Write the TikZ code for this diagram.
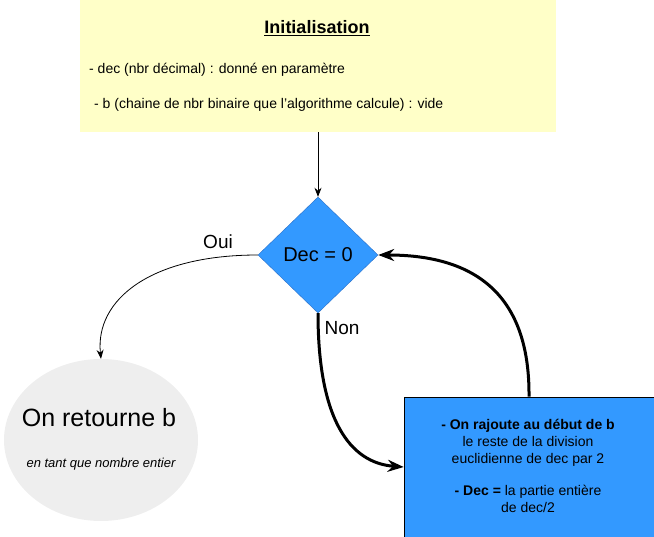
\documentclass[tikz,border=0pt]{standalone}
\usepackage{fontspec}
\setmainfont{Liberation Sans}
\usetikzlibrary{shapes.geometric,arrows.meta}
\begin{document}
\begin{tikzpicture}[x=1pt,y=-1pt,
  thin arr/.style={draw=black,-{Stealth[length=9pt,width=7pt]},line width=0.8pt},
  thick arr/.style={draw=black,-{Stealth[length=16pt,width=12pt]},line width=3pt},
  fs/.style={font=\fontsize{14}{17}\selectfont}]
\useasboundingbox (0,0) rectangle (654,537);
\node[fill={rgb,255:red,255;green,255;blue,200},minimum width=476pt,minimum height=132pt,inner sep=0] (init) at (318,66) {};
\node[font=\fontsize{18}{21}\selectfont\bfseries] (t) at (317,28) {\underline{Initialisation}};
\node[anchor=west,fs,inner sep=0] (l1) at (89,70) {- dec (nbr décimal) : donné en paramètre};
\node[anchor=west,fs,inner sep=0] (l2) at (94,105) {- b (chaine de nbr binaire que l'algorithme calcule) : vide};
\node[diamond,fill={rgb,255:red,51;green,153;blue,255},draw={rgb,255:red,40;green,110;blue,200},minimum width=120pt,minimum height=116pt,inner sep=0,font=\fontsize{20}{24}\selectfont] (d) at (318,255) {Dec = 0};
\node[ellipse,fill={rgb,255:red,238;green,238;blue,238},minimum width=194pt,minimum height=162pt,inner sep=0] (e) at (101,440) {};
\node[font=\fontsize{25}{30}\selectfont] (e1) at (99,418) {On retourne b};
\node[font=\fontsize{13}{16}\selectfont\itshape] (e2) at (101,464) {en tant que nombre entier};
\node[fill={rgb,255:red,51;green,153;blue,255},draw=black,line width=0.6pt,minimum width=250pt,minimum height=140pt,inner sep=0] (b) at (529,467) {};
\node[fs,align=center] (bt) at (528,466) {\textbf{- On rajoute au début de b}\\le reste de la division\\euclidienne de dec par 2\\[15pt]\textbf{- Dec =} la partie entière\\de dec/2};
\draw[thin arr] (init.south) -- (d.north);
\draw[thin arr] (d.west) .. controls (150,255) and (95,300) .. (e.north);
\draw[thick arr] (d.south) .. controls (318,420) and (350,463) .. (b.west);
\draw[thick arr] (b.north) .. controls (530,290) and (470,255) .. (d.east);
\node[font=\fontsize{19}{22}\selectfont] (oui) at (218,242) {Oui};
\node[font=\fontsize{19}{22}\selectfont] (non) at (342,328) {Non};
\end{tikzpicture}
\end{document}
